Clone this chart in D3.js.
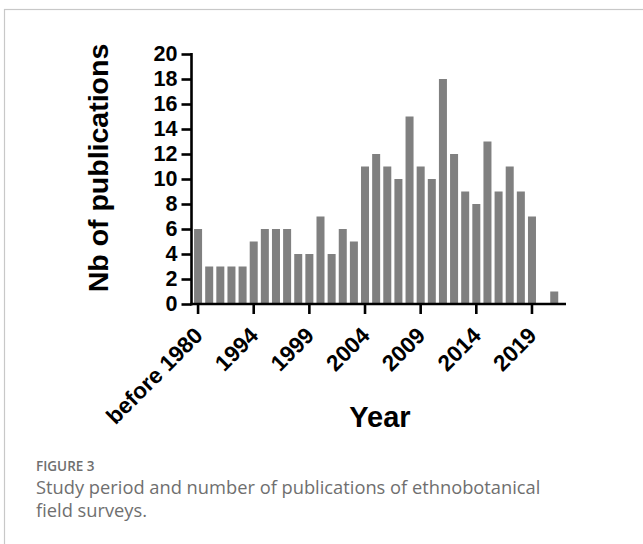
<!DOCTYPE html>
<html>
<head>
<meta charset="utf-8">
<script src="https://cdn.jsdelivr.net/npm/d3@7"></script>
<style>
  html, body { margin: 0; padding: 0; background: #fff; }
  svg { display: block; }
</style>
</head>
<body>
<svg id="chart" width="643" height="544"></svg>
<script>
// categories on the x axis (1980s grouped, then single years)
const years = ["before 1980"].concat(d3.range(1990, 2022).map(String));
// number of publications per period
const counts = [6, 3, 3, 3, 3, 5, 6, 6, 6, 4, 4, 7, 4, 6, 5, 11, 12, 11, 10, 15, 11, 10, 18, 12, 9, 8, 13, 9, 11, 9, 7, 0, 1];
const xTickLabels = ["before 1980", "1994", "1999", "2004", "2009", "2014", "2019"];
const yTicks = [0, 2, 4, 6, 8, 10, 12, 14, 16, 18, 20];

const svg = d3.select("#chart");
const axisFont = "'Liberation Sans', Arial, Helvetica, sans-serif";

// frame round the figure
svg.append("rect")
  .attr("x", 4.5).attr("y", 9.5)
  .attr("width", 700).attr("height", 600)
  .attr("fill", "none")
  .attr("stroke", "#c8c8c8")
  .attr("stroke-width", 1.2);

const x = d3.scaleBand()
  .domain(years)
  .range([192.5, 559.8])
  .paddingInner(0.28)
  .paddingOuter(0.14);

const y = d3.scaleLinear()
  .domain([0, 20])
  .range([304, 54]);

// bars
svg.append("g")
  .selectAll("rect")
  .data(counts)
  .join("rect")
  .attr("x", (d, i) => x(years[i]))
  .attr("y", d => y(d))
  .attr("width", x.bandwidth())
  .attr("height", d => y(0) - y(d))
  .attr("fill", "#808080");

// y axis
const yAxis = svg.append("g")
  .attr("transform", "translate(191.5,0)")
  .call(d3.axisLeft(y).tickValues(yTicks).tickSize(10).tickPadding(4));
yAxis.select(".domain").remove();
yAxis.selectAll(".tick line").attr("stroke", "#000").attr("stroke-width", 2.6);
yAxis.selectAll(".tick text")
  .attr("fill", "#000")
  .style("font-family", axisFont)
  .style("font-weight", "bold")
  .style("font-size", "21.5px");

// x axis
const xAxis = svg.append("g")
  .attr("transform", "translate(0,304)")
  .call(d3.axisBottom(x).tickValues(xTickLabels).tickSize(10).tickFormat(d => d));
xAxis.select(".domain").remove();
xAxis.selectAll(".tick line").attr("stroke", "#000").attr("stroke-width", 2.6);
xAxis.selectAll(".tick text")
  .attr("fill", "#000")
  .attr("text-anchor", "end")
  .attr("y", 0).attr("dy", 0)
  .attr("transform", "translate(6,33) rotate(-45)")
  .style("font-family", axisFont)
  .style("font-weight", "bold")
  .style("font-size", "22.5px");

// axis lines
svg.append("line")
  .attr("x1", 191.5).attr("x2", 191.5)
  .attr("y1", y(20) - 1).attr("y2", y(0) + 1.3)
  .attr("stroke", "#000").attr("stroke-width", 2.6);
svg.append("line")
  .attr("x1", 190).attr("x2", 566)
  .attr("y1", y(0)).attr("y2", y(0))
  .attr("stroke", "#000").attr("stroke-width", 2.6);

// axis titles
svg.append("text")
  .attr("transform", "translate(108,168) rotate(-90)")
  .attr("text-anchor", "middle")
  .style("font-family", axisFont)
  .style("font-weight", "bold")
  .style("font-size", "28.5px")
  .text("Nb of publications");

svg.append("text")
  .attr("x", 380).attr("y", 427)
  .attr("text-anchor", "middle")
  .style("font-family", axisFont)
  .style("font-weight", "bold")
  .style("font-size", "29px")
  .text("Year");

// caption
const capFont = "'Open Sans', 'Noto Sans', sans-serif";
svg.append("text")
  .attr("x", 36).attr("y", 471)
  .attr("fill", "#6f6f6f")
  .style("font-family", capFont)
  .style("font-weight", "600")
  .style("font-size", "13.5px")
  .text("FIGURE 3");
svg.append("text")
  .attr("x", 36).attr("y", 494)
  .attr("fill", "#6f6f6f")
  .style("font-family", capFont)
  .style("font-size", "18.3px")
  .text("Study period and number of publications of ethnobotanical");
svg.append("text")
  .attr("x", 36).attr("y", 517)
  .attr("fill", "#6f6f6f")
  .style("font-family", capFont)
  .style("font-size", "18.3px")
  .text("field surveys.");
</script>
</body>
</html>
